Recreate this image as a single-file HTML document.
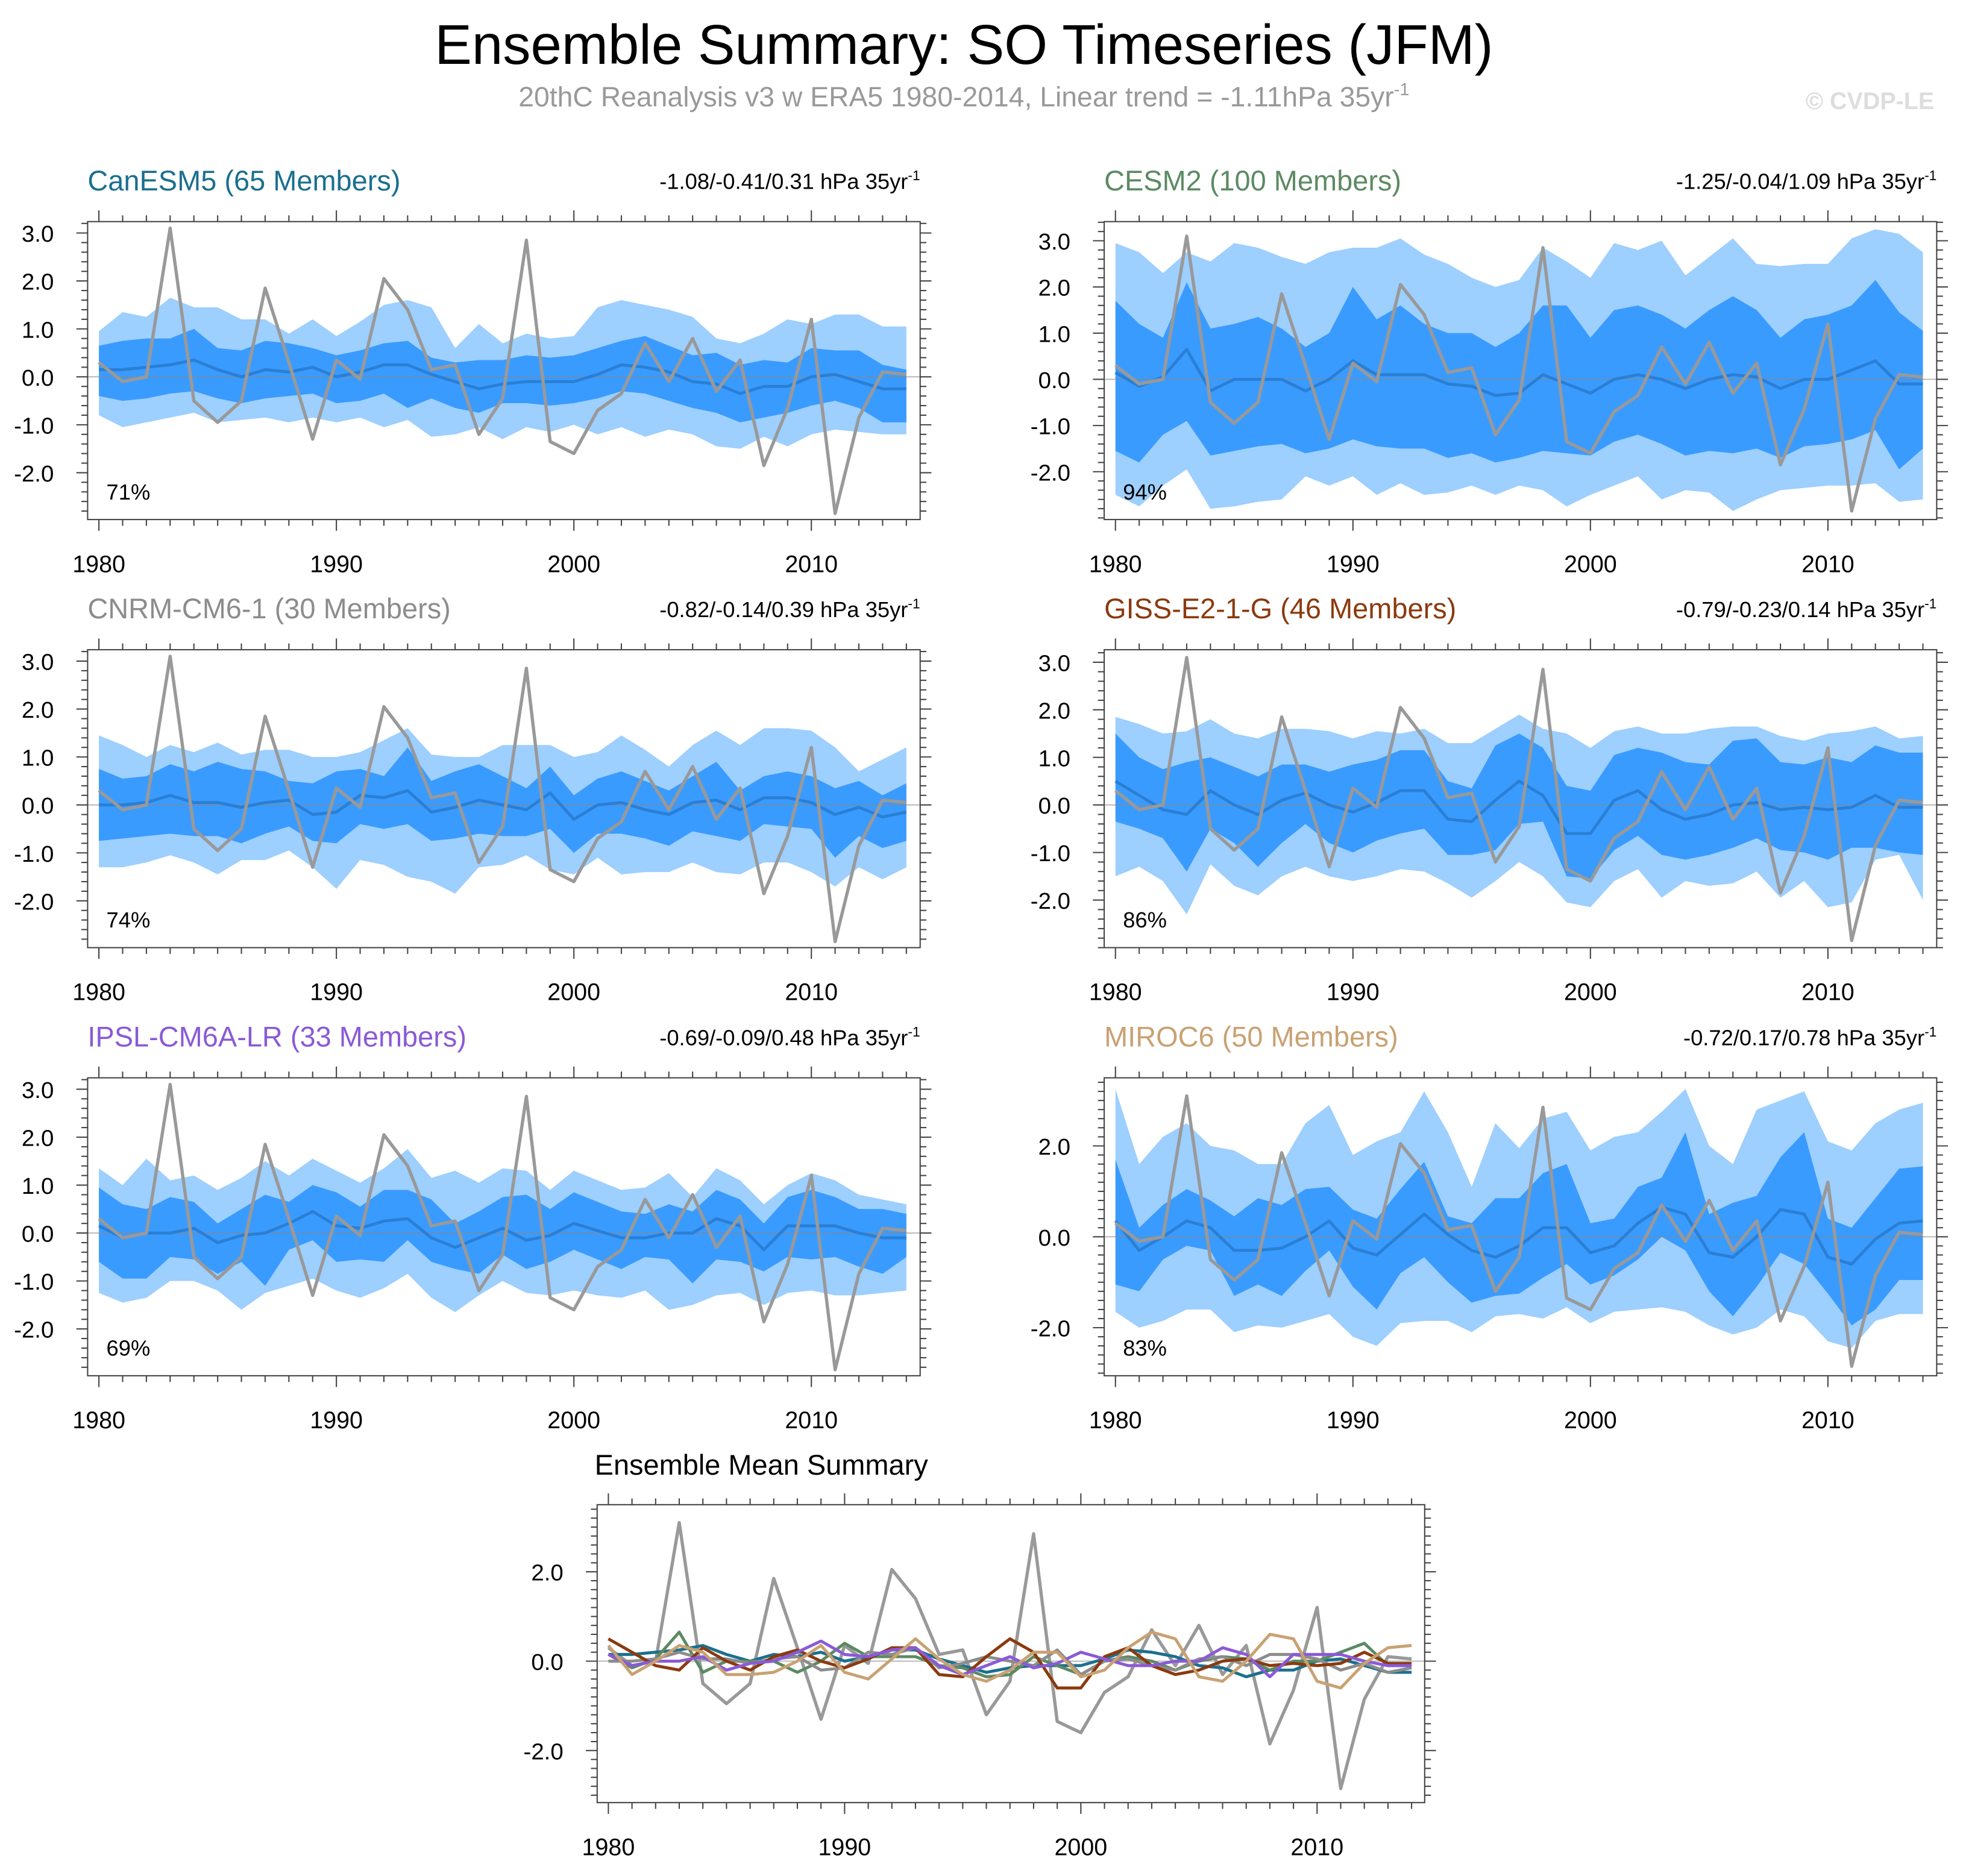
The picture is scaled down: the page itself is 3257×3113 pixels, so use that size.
<!DOCTYPE html>
<html><head><meta charset="utf-8"><style>
html,body{margin:0;padding:0;background:#fff}
svg{display:block}
text{font-family:"Liberation Sans",sans-serif}
</style></head><body>
<svg id="chart" width="3257" height="3113" viewBox="0 0 1568 1498.6" xmlns="http://www.w3.org/2000/svg">
<text x="770" y="51" font-size="44.5" text-anchor="middle">Ensemble Summary: SO Timeseries (JFM)</text>
<text x="770" y="85" font-size="22.3" fill="#999" text-anchor="middle">20thC Reanalysis v3 w ERA5 1980-2014, Linear trend = -1.11hPa 35yr<tspan dy="-9" font-size="14">-1</tspan></text>
<text x="1545" y="87" font-size="19" fill="#ddd" font-weight="bold" text-anchor="end">© CVDP-LE</text>
<g id="panels"></g>
</svg>
<script>
const years=[];for(let y=1980;y<=2014;y++)years.push(y);
const obs=[0.3,-0.1,0.0,3.1,-0.5,-0.95,-0.5,1.85,0.3,-1.3,0.35,-0.05,2.05,1.4,0.15,0.25,-1.2,-0.45,2.85,-1.35,-1.6,-0.7,-0.35,0.7,-0.1,0.8,-0.3,0.35,-1.85,-0.65,1.2,-2.85,-0.85,0.1,0.05];

const canMean=[0.15,0.15,0.2,0.25,0.35,0.15,0.0,0.15,0.1,0.2,0.0,0.1,0.25,0.25,0.05,-0.1,-0.25,-0.15,-0.1,-0.1,-0.1,0.05,0.25,0.2,0.1,-0.1,-0.15,-0.35,-0.2,-0.2,0.0,0.05,-0.1,-0.25,-0.25];
const canInHi=[0.65,0.75,0.8,0.8,1.0,0.6,0.55,0.75,0.7,0.6,0.45,0.55,0.7,0.75,0.4,0.3,0.35,0.35,0.45,0.4,0.45,0.6,0.75,0.85,0.65,0.45,0.5,0.25,0.35,0.3,0.6,0.55,0.55,0.25,0.15];
const canInLo=[-0.4,-0.5,-0.45,-0.35,-0.3,-0.45,-0.55,-0.45,-0.4,-0.35,-0.55,-0.5,-0.35,-0.65,-0.45,-0.65,-0.75,-0.55,-0.55,-0.6,-0.55,-0.45,-0.3,-0.35,-0.5,-0.65,-0.75,-0.95,-0.85,-0.75,-0.6,-0.5,-0.65,-0.95,-0.95];
const canOutHi=[0.95,1.35,1.25,1.65,1.45,1.45,1.2,1.2,0.9,1.2,0.85,1.15,1.5,1.6,1.45,0.6,1.1,0.7,0.9,0.8,0.85,1.45,1.6,1.5,1.4,1.25,0.8,0.7,0.9,1.2,1.1,1.3,1.3,1.05,1.05];
const canOutLo=[-0.8,-1.05,-0.95,-0.85,-0.75,-0.95,-0.9,-0.85,-0.95,-0.85,-0.95,-0.85,-1.05,-0.9,-1.25,-1.2,-1.05,-1.3,-1.05,-1.15,-1.0,-1.2,-1.05,-1.25,-1.1,-1.2,-1.45,-1.5,-1.25,-1.45,-1.2,-1.1,-1.15,-1.2,-1.2];

const cesmMean=[0.15,-0.15,0.05,0.65,-0.25,0.0,0.0,0.0,-0.25,0.0,0.4,0.1,0.1,0.1,-0.1,-0.15,-0.35,-0.3,0.1,-0.1,-0.3,0.0,0.1,0.0,-0.2,0.0,0.1,0.05,-0.2,0.0,0.0,0.2,0.4,-0.1,-0.1];
const cesmInHi=[1.7,1.2,0.9,2.1,1.1,1.2,1.35,1.1,0.7,1.0,2.0,1.3,1.6,1.2,1.0,1.0,0.7,1.0,1.6,1.6,0.9,1.5,1.6,1.4,1.1,1.5,1.8,1.5,0.9,1.3,1.4,1.6,2.15,1.45,1.05];
const cesmInLo=[-1.55,-1.8,-1.2,-0.9,-1.65,-1.55,-1.45,-1.4,-1.6,-1.5,-1.3,-1.45,-1.5,-1.5,-1.7,-1.6,-1.8,-1.7,-1.55,-1.6,-1.65,-1.35,-1.2,-1.4,-1.65,-1.55,-1.6,-1.5,-1.7,-1.45,-1.4,-1.3,-1.1,-1.95,-1.5];
const cesmOutHi=[2.95,2.75,2.3,2.75,2.55,2.95,2.85,2.65,2.5,2.75,2.85,2.85,3.05,2.7,2.5,2.2,2.0,2.15,2.85,2.55,2.2,2.95,2.8,3.0,2.25,2.65,3.05,2.5,2.45,2.5,2.5,3.05,3.25,3.15,2.75];
const cesmOutLo=[-2.5,-2.75,-2.3,-1.95,-2.8,-2.75,-2.65,-2.6,-2.1,-2.3,-2.1,-2.5,-2.25,-2.5,-2.45,-2.3,-2.5,-2.3,-2.4,-2.75,-2.5,-2.3,-2.1,-2.6,-2.4,-2.45,-2.85,-2.6,-2.4,-2.35,-2.3,-2.3,-2.25,-2.65,-2.6];

const cnrmMean=[0.0,0.0,0.05,0.2,0.05,0.05,-0.05,0.05,0.1,-0.2,-0.15,0.2,0.15,0.3,-0.15,-0.05,0.1,0.0,-0.1,0.25,-0.3,0.0,0.05,-0.1,-0.2,0.05,0.1,-0.1,0.15,0.15,0.05,-0.2,-0.05,-0.25,-0.15];
const cnrmInHi=[0.75,0.55,0.6,0.85,0.7,0.9,0.75,0.7,0.5,0.45,0.7,0.75,0.6,1.2,0.5,0.7,0.85,0.6,0.35,0.8,0.2,0.55,0.7,0.5,0.3,0.6,0.9,0.3,0.6,0.7,0.6,0.35,0.5,0.2,0.45];
const cnrmInLo=[-0.75,-0.7,-0.65,-0.6,-0.65,-0.65,-0.8,-0.6,-0.45,-0.75,-0.8,-0.4,-0.5,-0.4,-0.75,-0.7,-0.6,-0.65,-0.65,-0.5,-1.0,-0.6,-0.6,-0.7,-0.85,-0.55,-0.65,-0.75,-0.4,-0.45,-0.5,-1.1,-0.65,-0.9,-0.75];
const cnrmOutHi=[1.45,1.25,1.0,1.25,1.1,1.3,1.05,1.15,1.15,1.0,1.0,1.1,1.35,1.6,1.05,1.0,1.0,1.25,1.25,1.25,1.0,1.1,1.45,1.15,0.8,1.25,1.55,1.25,1.6,1.6,1.55,1.2,0.7,0.95,1.2];
const cnrmOutLo=[-1.3,-1.3,-1.2,-1.05,-1.2,-1.45,-1.15,-1.15,-0.95,-1.3,-1.75,-1.15,-1.25,-1.5,-1.6,-1.85,-1.3,-1.25,-1.05,-1.35,-1.45,-1.1,-1.45,-1.4,-1.4,-1.2,-1.4,-1.45,-1.2,-1.2,-1.4,-1.7,-1.3,-1.55,-1.3];

const gissMean=[0.5,0.2,-0.1,-0.2,0.3,0.0,-0.2,0.1,0.25,0.0,-0.15,0.05,0.3,0.3,-0.3,-0.35,0.1,0.5,0.2,-0.6,-0.6,0.1,0.3,-0.1,-0.3,-0.2,0.0,0.05,-0.1,-0.05,-0.1,-0.05,0.2,-0.05,-0.05];
const gissInHi=[1.5,1.0,0.75,0.9,1.0,0.8,0.6,0.85,0.85,0.7,0.85,0.95,1.15,1.15,0.5,0.35,1.25,1.5,1.2,0.4,0.3,1.05,1.2,1.1,0.9,0.85,1.35,1.4,0.9,0.85,1.0,0.9,1.25,1.1,1.1];
const gissInLo=[-0.35,-0.5,-0.7,-1.4,-0.5,-0.8,-1.3,-0.8,-0.4,-0.8,-1.0,-0.75,-0.6,-0.5,-1.05,-1.05,-0.95,-0.4,-0.35,-1.5,-1.55,-0.95,-0.65,-1.05,-1.15,-1.05,-0.9,-0.7,-0.95,-1.0,-1.15,-0.9,-0.9,-1.0,-1.05];
const gissOutHi=[1.85,1.7,1.5,1.55,1.8,1.5,1.4,1.6,1.6,1.55,1.4,1.55,1.5,1.6,1.3,1.3,1.6,1.9,1.6,1.5,1.2,1.55,1.65,1.5,1.5,1.6,1.65,1.65,1.45,1.35,1.5,1.55,1.65,1.4,1.45];
const gissOutLo=[-1.5,-1.3,-1.6,-2.3,-1.25,-1.7,-1.9,-1.5,-1.3,-1.5,-1.6,-1.5,-1.35,-1.4,-1.65,-1.95,-1.6,-1.2,-1.5,-2.05,-2.15,-1.6,-1.35,-1.95,-1.6,-1.7,-1.65,-1.4,-1.95,-1.6,-2.15,-2.05,-1.15,-1.05,-2.0];

const ipslMean=[0.15,-0.1,0.0,0.0,0.1,-0.2,-0.05,0.0,0.2,0.45,0.15,0.1,0.25,0.3,-0.1,-0.3,-0.1,0.1,-0.15,-0.05,0.2,0.05,-0.1,-0.1,0.0,0.0,0.3,0.15,-0.35,0.15,0.15,0.15,0.0,-0.1,-0.1];
const ipslInHi=[0.95,0.6,0.5,0.75,0.65,0.2,0.5,0.8,0.65,1.0,0.85,0.55,0.9,0.9,0.7,0.2,0.45,0.75,0.8,0.5,0.85,0.65,0.45,0.4,0.6,0.45,0.9,0.7,0.2,0.75,0.9,0.75,0.5,0.5,0.4];
const ipslInLo=[-0.6,-0.95,-0.95,-0.5,-0.55,-0.85,-0.6,-1.1,-0.35,-0.15,-0.6,-0.55,-0.6,-0.15,-0.6,-0.75,-0.85,-0.45,-0.75,-0.6,-0.35,-0.55,-0.75,-0.5,-0.55,-1.05,-0.55,-0.6,-0.8,-0.5,-0.55,-0.5,-0.7,-0.85,-0.5];
const ipslOutHi=[1.35,1.0,1.55,1.1,1.2,0.9,1.15,1.5,1.2,1.55,1.3,1.05,1.35,1.75,1.15,1.3,1.05,1.35,1.3,0.9,1.3,1.1,0.9,0.95,1.25,0.75,1.35,1.1,0.6,1.0,1.25,1.1,0.8,0.7,0.6];
const ipslOutLo=[-1.25,-1.45,-1.35,-1.0,-1.0,-1.2,-1.6,-1.25,-1.1,-0.95,-1.2,-1.35,-1.15,-0.85,-1.35,-1.65,-1.3,-1.0,-1.25,-1.3,-1.2,-1.3,-1.35,-1.2,-1.6,-1.5,-1.3,-1.25,-1.5,-1.25,-1.2,-1.3,-1.3,-1.25,-1.2];

const mirocMean=[0.35,-0.3,0.0,0.35,0.2,-0.3,-0.3,-0.25,0.0,0.35,-0.25,-0.4,0.05,0.5,0.05,-0.3,-0.45,-0.2,0.2,0.2,-0.35,-0.2,0.3,0.65,0.5,-0.35,-0.45,0.0,0.6,0.5,-0.45,-0.6,-0.05,0.3,0.35];
const mirocInHi=[1.7,0.2,0.7,1.05,0.8,0.45,0.85,0.7,1.05,1.1,0.6,0.4,1.05,1.65,0.45,0.3,0.85,0.85,1.4,1.6,0.3,0.4,1.1,1.3,2.3,0.5,0.75,0.9,1.75,2.3,0.4,0.2,0.85,1.5,1.55];
const mirocInLo=[-1.05,-1.2,-0.5,-0.2,-0.3,-1.3,-1.05,-1.3,-0.75,-0.3,-1.1,-1.6,-0.8,-0.45,-1.0,-1.45,-1.3,-1.25,-0.9,-0.6,-1.05,-0.85,-0.5,0.0,-0.3,-1.2,-1.75,-1.1,-0.35,-0.6,-1.25,-1.95,-1.6,-0.95,-0.95];
const mirocOutHi=[3.25,1.6,2.2,2.5,2.0,1.9,1.6,1.6,2.5,2.9,1.8,2.1,2.3,3.2,2.3,1.1,2.5,1.95,2.6,2.75,1.9,2.2,2.3,2.75,3.25,2.0,1.6,2.8,3.0,3.2,2.1,1.9,2.5,2.8,2.95];
const mirocOutLo=[-1.65,-2.0,-1.85,-1.6,-1.6,-2.1,-1.95,-2.0,-1.85,-1.7,-2.2,-2.4,-1.9,-1.85,-1.85,-2.1,-1.75,-1.7,-1.8,-1.55,-1.9,-1.65,-1.6,-1.55,-1.65,-1.95,-2.15,-2.0,-1.6,-1.75,-2.3,-2.45,-1.85,-1.7,-1.7];

const xTicks=[1980,1990,2000,2010];
const yTicksA=[3,2,1,0,-1,-2];
const yTicksB=[2,0,-2];

const NS="http://www.w3.org/2000/svg";
const root=document.getElementById('panels');
function mk(tag,attrs,parent){const e=document.createElementNS(NS,tag);for(const k in attrs)e.setAttribute(k,attrs[k]);(parent||root).appendChild(e);return e;}

function axes(g,P){
  const xs=y=>P.x0+(y-1980)*P.pxYr+9*(P.pxYr/18.97);
  const ys=v=>P.y0-v*P.pxU;
  return {xs,ys};
}
function drawFrame(g,P,A,yt,slug){
  const fr=mk('rect',{x:P.l,y:P.t,width:P.r-P.l,height:P.b-P.t,fill:'none',stroke:'#444','stroke-width':1},g);
  
  
  for(let v=-4;v<=4.001;v+=0.2){const y=A.ys(v);if(y<P.t||y>P.b)continue;
    const maj=Math.abs(v-Math.round(v))<1e-6&&yt.includes(Math.round(v));
    const L=maj?9:5;
    mk('line',{x1:P.l-L,x2:P.l,y1:y,y2:y,stroke:'#444','stroke-width':1},g);
    mk('line',{x1:P.r,x2:P.r+L,y1:y,y2:y,stroke:'#444','stroke-width':1},g);}
  yt.forEach(v=>{const t=mk('text',{x:P.l-27,y:A.ys(v)+7,'font-size':18.5,'text-anchor':'end'},g);t.textContent=v.toFixed(1);
    
    });
  years.forEach(yr=>{const x=A.xs(yr);const maj=yr%10===0;const L=maj?9:5;
    mk('line',{x1:x,x2:x,y1:P.b,y2:P.b+L,stroke:'#444','stroke-width':1},g);
    mk('line',{x1:x,x2:x,y1:P.t-L,y2:P.t,stroke:'#444','stroke-width':1},g);});
  xTicks.forEach(yr=>{const t=mk('text',{x:A.xs(yr),y:P.b+42,'font-size':19,'text-anchor':'middle'},g);t.textContent=yr;
    
    });
}
function band(g,A,hi,lo,fill){
  let d='M'+years.map((y,i)=>A.xs(y)+','+A.ys(hi[i])).join('L');
  d+='L'+years.slice().reverse().map((y,j)=>{const i=years.length-1-j;return A.xs(y)+','+A.ys(lo[i]);}).join('L')+'Z';
  return mk('path',{d,fill,stroke:'none'},g);
}
function line(g,A,vals,color,w){
  return mk('path',{d:'M'+years.map((y,i)=>A.xs(y)+','+A.ys(vals[i])).join('L'),fill:'none',stroke:color,'stroke-width':w,'stroke-linejoin':'round'},g);
}
const panels=[
 {slug:'canesm5',name:'CanESM5 (65 Members)',color:'#1b6f8e',stats:'-1.08/-0.41/0.31',pct:'71%',l:70,r:735,t:177,b:415,y0:301,pxU:38.3,m:canMean,ih:canInHi,il:canInLo,oh:canOutHi,ol:canOutLo,yt:yTicksA},
 {slug:'cesm2',name:'CESM2 (100 Members)',color:'#5b8a62',stats:'-1.25/-0.04/1.09',pct:'94%',l:882,r:1547,t:177,b:415,y0:303,pxU:36.9,m:cesmMean,ih:cesmInHi,il:cesmInLo,oh:cesmOutHi,ol:cesmOutLo,yt:yTicksA},
 {slug:'cnrm-cm6-1',name:'CNRM-CM6-1 (30 Members)',color:'#8c8c8c',stats:'-0.82/-0.14/0.39',pct:'74%',l:70,r:735,t:519,b:757,y0:643,pxU:38.3,m:cnrmMean,ih:cnrmInHi,il:cnrmInLo,oh:cnrmOutHi,ol:cnrmOutLo,yt:yTicksA},
 {slug:'giss-e2-1-g',name:'GISS-E2-1-G (46 Members)',color:'#8b3a0e',stats:'-0.79/-0.23/0.14',pct:'86%',l:882,r:1547,t:519,b:757,y0:643,pxU:38.0,m:gissMean,ih:gissInHi,il:gissInLo,oh:gissOutHi,ol:gissOutLo,yt:yTicksA},
 {slug:'ipsl-cm6a-lr',name:'IPSL-CM6A-LR (33 Members)',color:'#8a5ad8',stats:'-0.69/-0.09/0.48',pct:'69%',l:70,r:735,t:861,b:1099,y0:985,pxU:38.3,m:ipslMean,ih:ipslInHi,il:ipslInLo,oh:ipslOutHi,ol:ipslOutLo,yt:yTicksA},
 {slug:'miroc6',name:'MIROC6 (50 Members)',color:'#c9a172',stats:'-0.72/0.17/0.78',pct:'83%',l:882,r:1547,t:861,b:1099,y0:988,pxU:36.3,m:mirocMean,ih:mirocInHi,il:mirocInLo,oh:mirocOutHi,ol:mirocOutLo,yt:yTicksB}
];
panels.forEach(p=>{
  const g=mk('g',{});
  
  
  const P={l:p.l,r:p.r,t:p.t,b:p.b,x0:p.l,pxYr:18.97,y0:p.y0,pxU:p.pxU};
  const A=axes(g,P);
  const ob=band(g,A,p.oh,p.ol,'#9dcfff');
  
  
  const ib=band(g,A,p.ih,p.il,'#3a9bff');
  
  
  mk('line',{x1:p.l,x2:p.r,y1:A.ys(0),y2:A.ys(0),stroke:'#888','stroke-width':0.8,'stroke-opacity':0.7},g);
  const ml=line(g,A,p.m,'#2a7fd4',2.4);
  
  
  const ol=line(g,A,obs,'#999',2.6);
  
  
  drawFrame(g,P,A,p.yt,p.slug);
  const t=mk('text',{x:p.l,y:p.t-25,'font-size':22.6,fill:p.color},g);t.textContent=p.name;
  
  
  const s=mk('text',{x:p.r,y:p.t-26,'font-size':17.5,'text-anchor':'end'},g);
  s.innerHTML=p.stats+' hPa 35yr<tspan dy="-7" font-size="11">-1</tspan>';
  
  
  const pc=mk('text',{x:p.l+15,y:p.b-16,'font-size':17.5},g);pc.textContent=p.pct;
  
  
});
// summary panel
(function(){
  const g=mk('g',{});
  
  
  const P={l:477,r:1138,t:1202,b:1440,x0:477,pxYr:18.87,y0:1327,pxU:35.7};
  const A=axes(g,P);
  mk('line',{x1:P.l,x2:P.r,y1:A.ys(0),y2:A.ys(0),stroke:'#888','stroke-width':0.8,'stroke-opacity':0.7},g);
  const ol=line(g,A,obs,'#999',2.6);
  
  
  panels.forEach(p=>{const l=line(g,A,p.m,p.color,2.4);
    
    });
  drawFrame(g,P,A,yTicksB,'summary');
  const t=mk('text',{x:475,y:1178,'font-size':22.6},g);t.textContent='Ensemble Mean Summary';
  
  
})();
</script>
</body></html>
